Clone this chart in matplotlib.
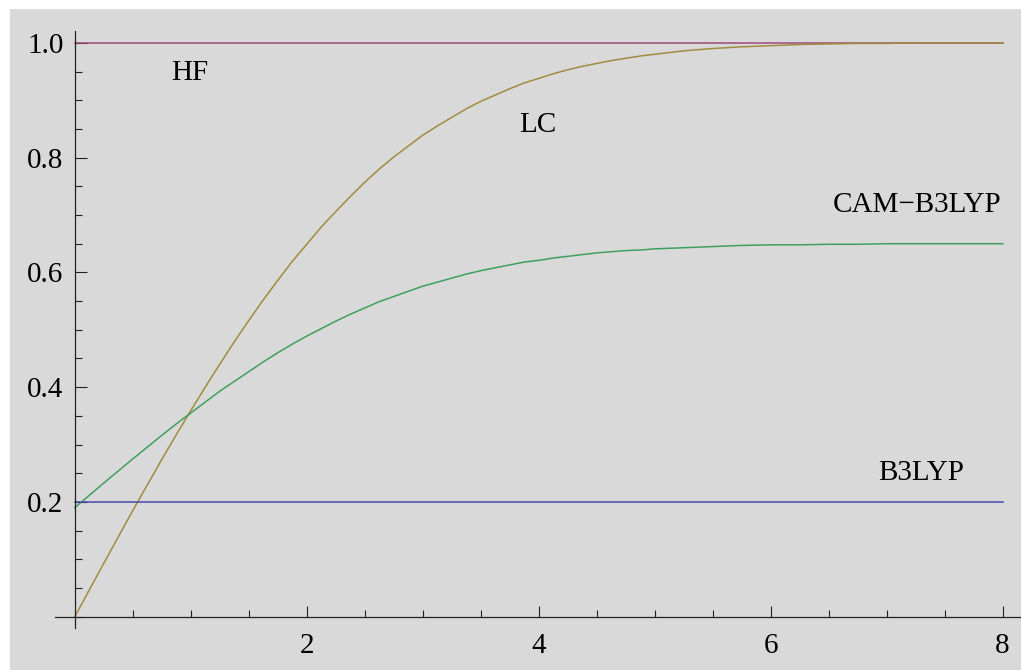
import matplotlib
matplotlib.use("Agg")
import matplotlib.pyplot as plt
from matplotlib.ticker import FixedLocator

# fraction of exact exchange vs. interelectronic distance r (bohr)
r = [0.0, 0.25, 0.5, 0.75, 0.875, 1.0, 1.125, 1.25, 1.375, 1.5, 1.625, 1.75,
     1.875, 2.0, 2.125, 2.25, 2.375, 2.5, 2.625, 2.75, 2.875, 3.0, 3.125,
     3.25, 3.375, 3.5, 3.625, 3.75, 3.875, 4.0, 4.125, 4.25, 4.375, 4.5,
     4.625, 4.75, 4.875, 5.0, 5.25, 5.5, 5.75, 6.0, 6.25, 6.5, 6.75, 7.0,
     7.25, 7.5, 7.75, 8.0]
lc = [0.000, 0.093, 0.185, 0.274, 0.317, 0.359, 0.400, 0.440, 0.479, 0.516,
      0.552, 0.586, 0.619, 0.649, 0.679, 0.706, 0.732, 0.757, 0.780, 0.801,
      0.820, 0.839, 0.855, 0.870, 0.885, 0.898, 0.909, 0.920, 0.930, 0.938,
      0.946, 0.953, 0.959, 0.964, 0.969, 0.973, 0.977, 0.980, 0.986, 0.990,
      0.993, 0.995, 0.997, 0.998, 0.999, 0.999, 1.000, 1.000, 1.000, 1.000]
cam = [0.190, 0.233, 0.275, 0.316, 0.336, 0.355, 0.374, 0.393, 0.410, 0.427,
       0.444, 0.460, 0.475, 0.489, 0.502, 0.515, 0.527, 0.538, 0.549, 0.558,
       0.567, 0.576, 0.583, 0.590, 0.597, 0.603, 0.608, 0.613, 0.618, 0.621,
       0.625, 0.628, 0.631, 0.634, 0.636, 0.638, 0.639, 0.641, 0.643, 0.645,
       0.647, 0.648, 0.648, 0.649, 0.649, 0.650, 0.650, 0.650, 0.650, 0.650]
hf_value = 1.0
b3lyp_value = 0.2

labels = ["HF", "LC", "CAM\u2212B3LYP", "B3LYP"]
label_x = [0.99, 3.99, 7.26, 7.30]
label_y = [0.948, 0.857, 0.717, 0.250]

xticks = [2, 4, 6, 8]
yticks = [0.2, 0.4, 0.6, 0.8, 1.0]
xminor = [0.5, 1.0, 1.5, 2.5, 3.0, 3.5, 4.5, 5.0, 5.5, 6.5, 7.0, 7.5]
yminor = [0.0, 0.05, 0.1, 0.15, 0.25, 0.3, 0.35, 0.45, 0.5, 0.55, 0.65, 0.7,
          0.75, 0.85, 0.9, 0.95]

plt.rcParams['font.family'] = ['Liberation Serif', 'DejaVu Serif']

fig = plt.figure(figsize=(10.21, 6.70), dpi=100)
fig.patch.set_facecolor("white")

# grey plot region fills the figure except a thin white strip top/left
ax = fig.add_axes([10 / 1021, 0, 1 - 10 / 1021, 1 - 9 / 670])
ax.set_facecolor("#d9d9d9")
ax.set_xlim(-0.558, 8.158)
ax.set_ylim(-0.0927, 1.0589)

ax.plot([r[0], r[-1]], [hf_value, hf_value], color="#9e4a78", lw=1.1)
ax.plot(r, lc, color="#a08c40", lw=1.1)
ax.plot(r, cam, color="#3fa05e", lw=1.1)
ax.plot([r[0], r[-1]], [b3lyp_value, b3lyp_value], color="#4a4aaa", lw=1.1)

for txt, x, y in zip(labels, label_x, label_y):
    ax.text(x, y, txt, fontsize=21, ha="center", va="center", color="black")

# Mathematica-style axes crossing at origin
for side in ["top", "right"]:
    ax.spines[side].set_visible(False)
ax.spines["left"].set_position(("data", 0))
ax.spines["bottom"].set_position(("data", 0))
ax.spines["left"].set_bounds(-0.0195, 1.0206)
ax.spines["bottom"].set_bounds(-0.17, 8.158)
for side in ["left", "bottom"]:
    ax.spines[side].set_color("#222222")
    ax.spines[side].set_linewidth(0.9)

ax.set_xticks(xticks)
ax.set_xticklabels([str(v) for v in xticks])
ax.set_yticks(yticks)
ax.set_yticklabels(["%.1f" % v for v in yticks])
ax.xaxis.set_minor_locator(FixedLocator(xminor))
ax.yaxis.set_minor_locator(FixedLocator(yminor))

ax.tick_params(axis="both", which="both", direction="in", color="#222222",
               labelsize=21, width=0.8)
ax.tick_params(axis="y", which="major", length=8.6, pad=8)
ax.tick_params(axis="y", which="minor", length=5)
ax.tick_params(axis="x", which="major", length=8, pad=12)
ax.tick_params(axis="x", which="minor", length=5)

fig.savefig("out.png", dpi=100, facecolor=fig.get_facecolor())
